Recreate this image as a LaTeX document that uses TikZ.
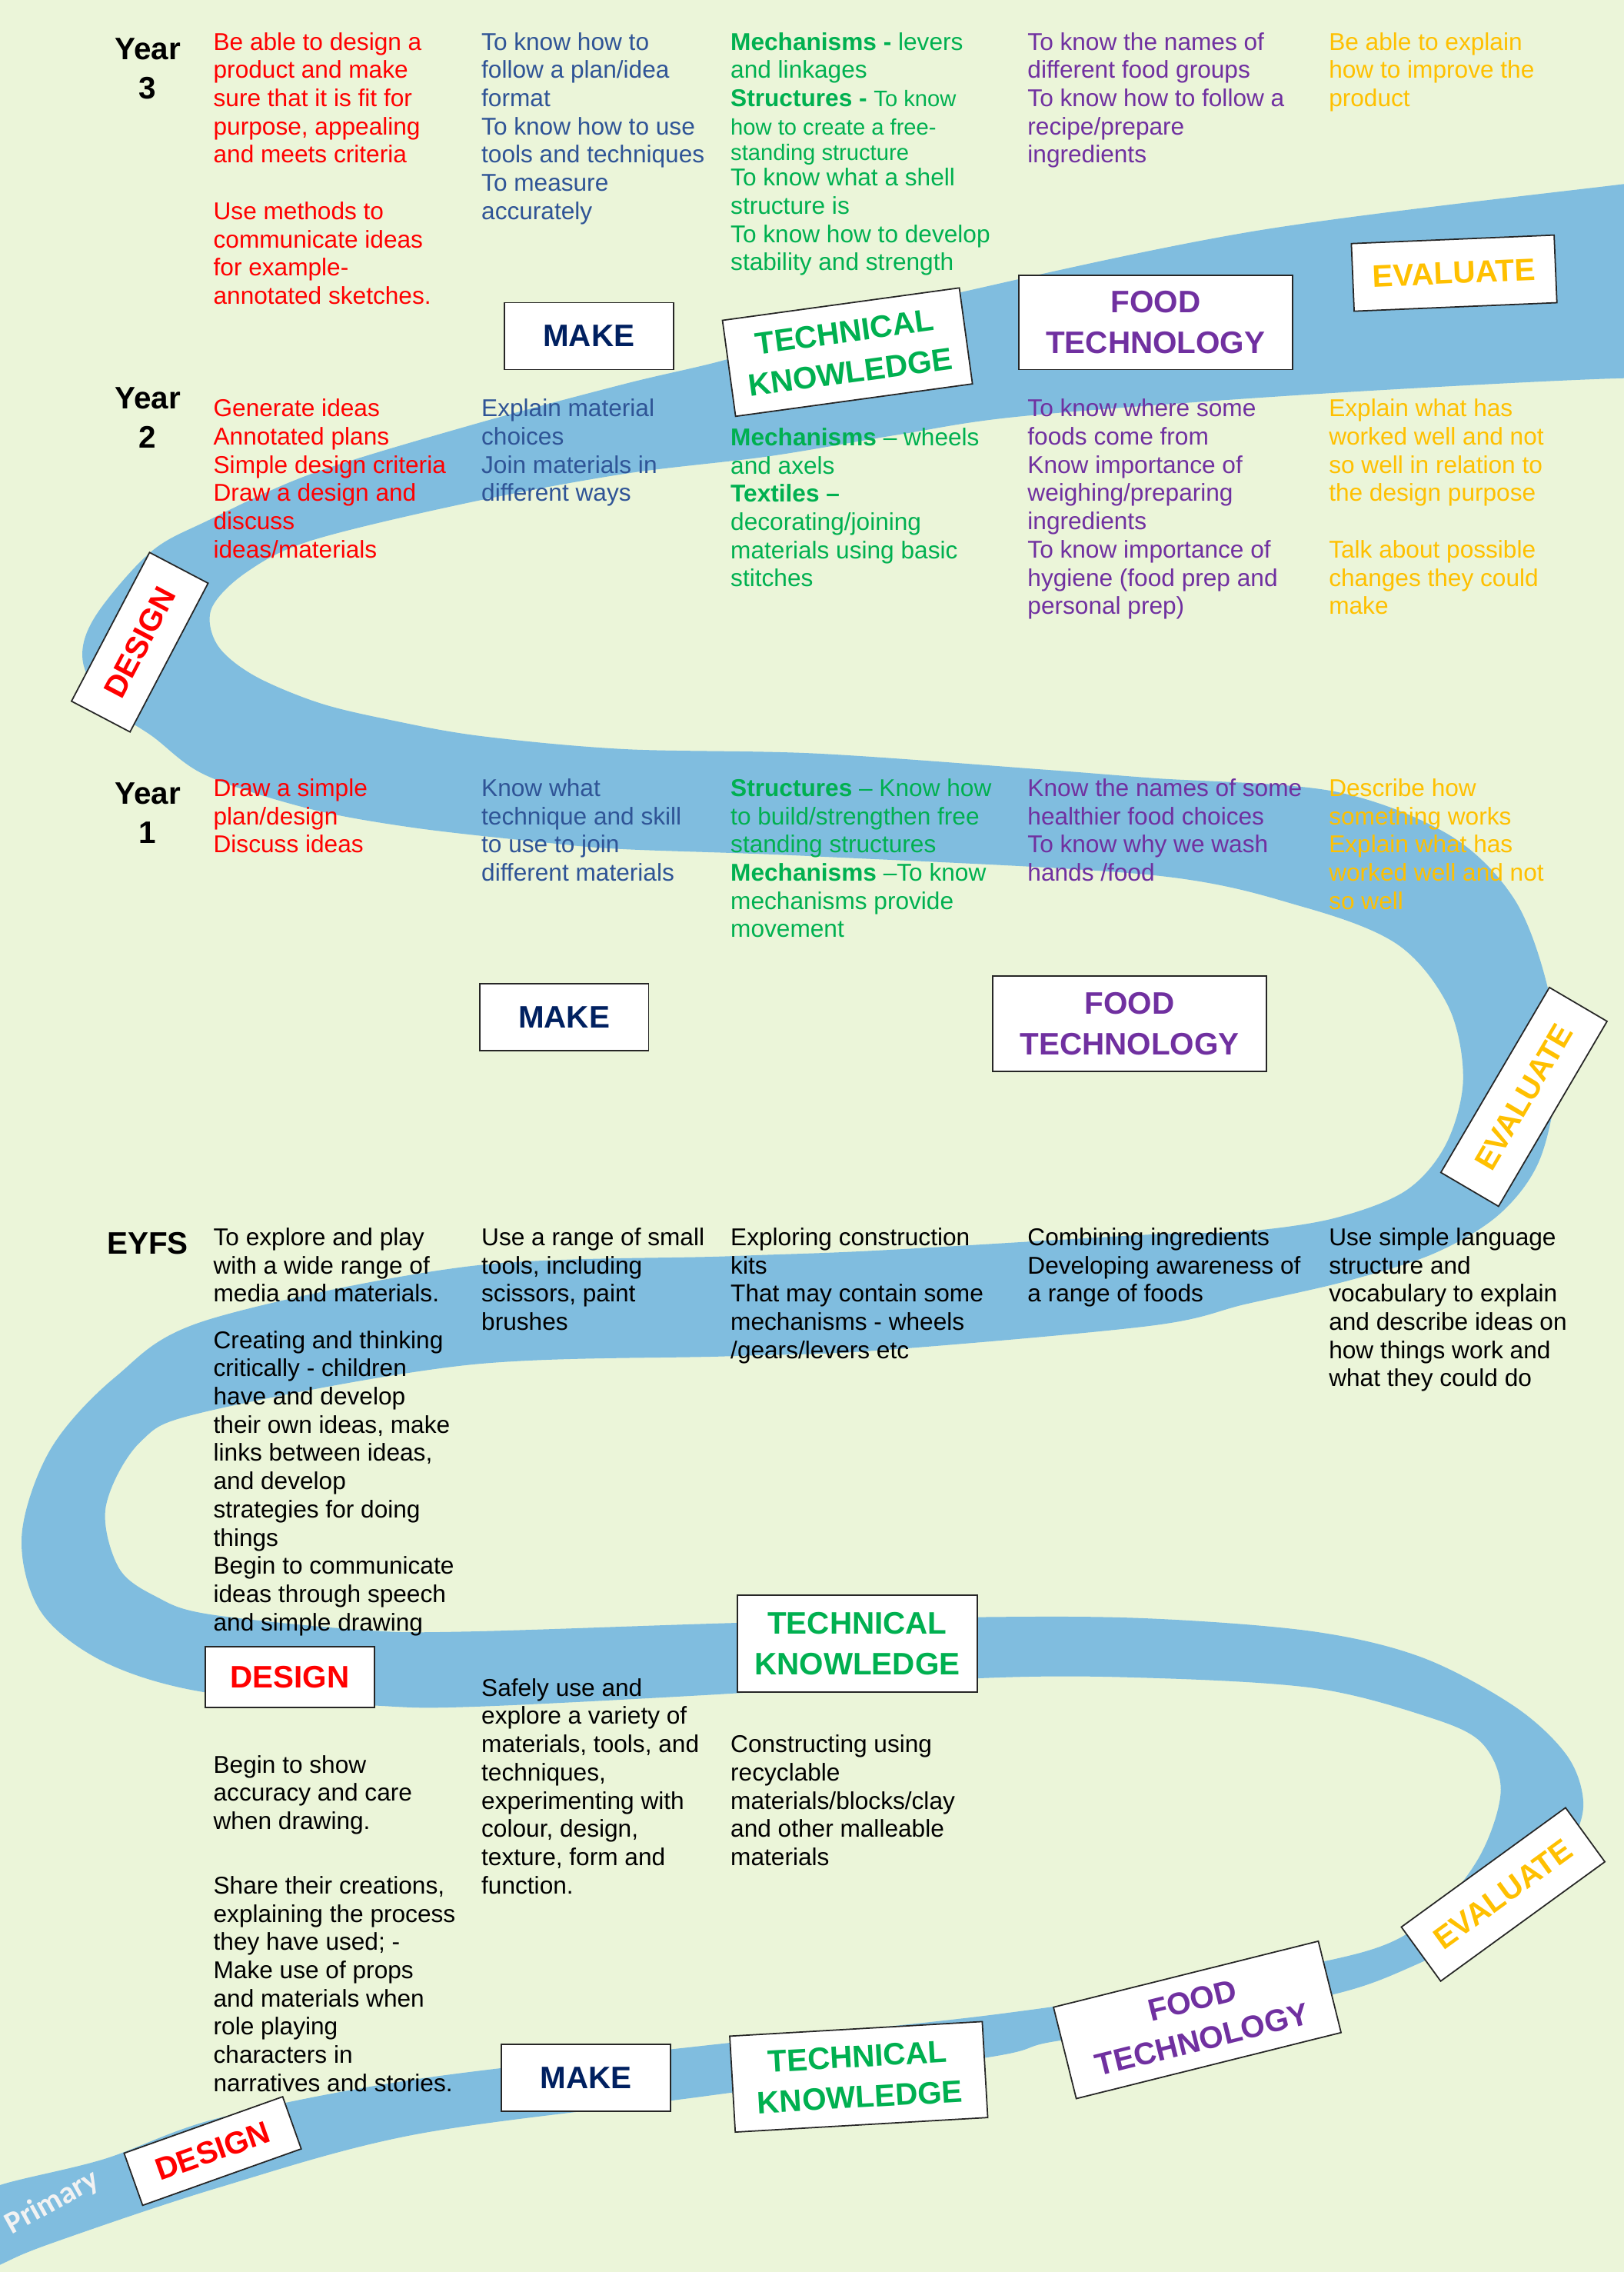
\documentclass[tikz,border=0pt]{standalone}
\usepackage{fontspec}
\setmainfont{Liberation Sans}
\newfontfamily\roadfont{Carlito}

\definecolor{meadow}{RGB}{235,245,217}
\definecolor{river}{RGB}{128,189,223}
\definecolor{dtred}{RGB}{255,0,0}
\definecolor{dtblue}{RGB}{47,84,150}
\definecolor{dtgreen}{RGB}{0,176,80}
\definecolor{dtpurple}{RGB}{112,48,160}
\definecolor{dtgold}{RGB}{255,192,0}
\definecolor{dtnavy}{RGB}{0,32,96}

\newcommand\sml{\fontsize{8.3}{9.5}\selectfont}

\tikzset{
  stage/.style={draw=black!85, line width=0.5pt, fill=white, inner sep=0pt,
    align=center, font=\fontsize{11.5}{15}\selectfont\bfseries},
  aim/.style={anchor=north west, inner sep=0pt, align=left,
    font=\fontsize{9}{10.45}\selectfont},
  year/.style={anchor=north, inner sep=0pt, align=center,
    font=\fontsize{11.5}{14.4}\selectfont\bfseries},
  road/.style={fill=river},
}

\begin{document}
\begin{tikzpicture}[x=0.01884cm, y=-0.01884cm]
  \useasboundingbox (0,0) rectangle (1121,1568);
  \fill[meadow] (0,0) rectangle (1121,1568);

  % the winding road
  \begin{scope}
    \clip (0,0) rectangle (1121,1568);
    \fill[road] plot[smooth, tension=0.55] coordinates {
      (-30,1523) (0,1508) (72,1490) (150,1462) (287,1435) (484,1412)
      (681,1391) (830,1369) (945,1346) (990,1320) (1022,1280) (1036,1235)
      (1022,1202) (983,1184) (907,1165) (794,1158) (681,1158)
      (484,1170) (323,1178) (258,1177) (142,1168) (72,1147) (28,1112)
      (15,1060) (35,1000) (80,950) (143,911) (323,874)
      (502,867) (606,863) (794,852) (858,850) (920,841) (970,822) (998,790)
      (1010,745) (1000,695) (965,652) (900,626) (796,604)
      (563,591) (430,586) (372,581) (284,571) (213,558) (142,535) (105,508)
      (72,485) (57,455) (66,425) (104,381) (144,359) (215,327)
      (323,294) (431,265) (502,248) (580,224) (662,202) (869,159)
      (1121,127) (1160,123)}
      -- plot[smooth, tension=0.55] coordinates {
      (1160,266) (1121,261) (907,272) (708,287) (620,300) (530,315)
      (431,327) (323,347) (215,373) (170,395) (146,420) (150,445)
      (175,466) (220,485) (270,497) (332,508) (431,517) (563,520) (719,531)
      (796,537) (920,546) (1000,576) (1045,620) (1068,680) (1075,740)
      (1063,800) (1035,838) (990,865) (930,884) (860,900)
      (794,915) (606,932) (502,936) (323,942) (143,974) (97,995)
      (73,1040) (82,1082) (108,1102) (144,1114) (251,1125) (323,1126)
      (509,1120) (681,1116) (794,1117) (907,1126) (982,1144) (1046,1178)
      (1082,1212) (1093,1245) (1083,1275) (1058,1305) (1020,1334)
      (975,1357) (926,1375) (830,1395) (727,1409) (681,1420) (484,1447)
      (287,1473) (150,1510) (36,1548) (0,1563) (-30,1578)}
      -- cycle;
  \end{scope}

  % Year 3
  \node[year] (y3) at (102,26) {Year\\3};
  \node[aim, text=dtred] (y3design) at (147,22) {Be able to design a\\product and make\\sure that it is fit for\\purpose, appealing\\and meets criteria\\[10.45pt]Use methods to\\communicate ideas\\for example-\\annotated sketches.};
  \node[aim, text=dtblue] (y3make) at (332,22) {To know how to\\follow a plan/idea\\format\\To know how to use\\tools and techniques\\To measure\\accurately};
  \node[aim, text=dtgreen] (y3tech) at (504,22) {\textbf{Mechanisms -} levers\\and linkages\\\textbf{Structures -} {\sml To know}\\{\sml how to create a free-}\\[-1pt]{\sml standing structure}\\[-1pt]To know what a shell\\structure is\\To know how to develop\\stability and strength};
  \node[aim, text=dtpurple] (y3food) at (709,22) {To know the names of\\different food groups\\To know how to follow a\\recipe/prepare\\ingredients};
  \node[aim, text=dtgold] (y3eval) at (917,22) {Be able to explain\\how to improve the\\product};

  % Year 2
  \node[year] (y2) at (102,267) {Year\\2};
  \node[aim, text=dtred] (y2design) at (147,275) {Generate ideas\\Annotated plans\\Simple design criteria\\Draw a design and\\discuss\\ideas/materials};
  \node[aim, text=dtblue] (y2make) at (332,275) {Explain material\\choices\\Join materials in\\different ways};
  \node[aim, text=dtgreen] (y2tech) at (504,295) {\textbf{Mechanisms} – wheels\\and axels\\\textbf{Textiles –}\\decorating/joining\\materials using basic\\stitches};
  \node[aim, text=dtpurple] (y2food) at (709,275) {To know where some\\foods come from\\Know importance of\\weighing/preparing\\ingredients\\To know importance of\\hygiene (food prep and\\personal prep)};
  \node[aim, text=dtgold] (y2eval) at (917,275) {Explain what has\\worked well and not\\so well in relation to\\the design purpose\\[10.45pt]Talk about possible\\changes they could\\make};

  % Year 1
  \node[year] (y1) at (102,540) {Year\\1};
  \node[aim, text=dtred] (y1design) at (147,537) {Draw a simple\\plan/design\\Discuss ideas};
  \node[aim, text=dtblue] (y1make) at (332,537) {Know what\\technique and skill\\to use to join\\different materials};
  \node[aim, text=dtgreen] (y1tech) at (504,537) {\textbf{Structures} – Know how\\to build/strengthen free\\standing structures\\\textbf{Mechanisms} –To know\\mechanisms provide\\movement};
  \node[aim, text=dtpurple] (y1food) at (709,537) {Know the names of some\\healthier food choices\\To know why we wash\\hands /food};
  \node[aim, text=dtgold] (y1eval) at (917,537) {Describe how\\something works\\Explain what has\\worked well and not\\so well};

  % EYFS
  \node[year] (eyfs) at (102,850) {EYFS};
  \node[aim] (edesign) at (147,847) {To explore and play\\with a wide range of\\media and materials.\\[6.7pt]Creating and thinking\\critically - children\\have and develop\\their own ideas, make\\links between ideas,\\and develop\\strategies for doing\\things\\Begin to communicate\\ideas through speech\\and simple drawing};
  \node[aim] (emake) at (332,847) {Use a range of small\\tools, including\\scissors, paint\\brushes};
  \node[aim] (etech) at (504,847) {Exploring construction\\kits\\That may contain some\\mechanisms - wheels\\/gears/levers etc};
  \node[aim] (efood) at (709,847) {Combining ingredients\\Developing awareness of\\a range of foods};
  \node[aim] (eeval) at (917,847) {Use simple language\\structure and\\vocabulary to explain\\and describe ideas on\\how things work and\\what they could do};
  \node[aim] (edesignb) at (147,1211) {Begin to show\\accuracy and care\\when drawing.\\[13.4pt]Share their creations,\\explaining the process\\they have used; -\\Make use of props\\and materials when\\role playing\\characters in\\narratives and stories.};
  \node[aim] (emakeb) at (332,1158) {Safely use and\\explore a variety of\\materials, tools, and\\techniques,\\experimenting with\\colour, design,\\texture, form and\\function.};
  \node[aim] (etechb) at (504,1197) {Constructing using\\recyclable\\materials/blocks/clay\\and other malleable\\materials};

  % stages along the road
  \node[stage, text=dtnavy, minimum width=2.20cm, minimum height=0.87cm] (make3) at (406.5,232) {MAKE};
  \node[stage, text=dtgreen, minimum width=3.11cm, minimum height=1.26cm, rotate=7.8] (tech3) at (585,243) {TECHNICAL\\KNOWLEDGE};
  \node[stage, text=dtpurple, minimum width=3.56cm, minimum height=1.225cm] (food3) at (797.7,222.6) {FOOD\\TECHNOLOGY};
  \node[stage, text=dtgold, minimum width=2.64cm, minimum height=0.88cm, rotate=2.4] (eval3) at (1003.8,188.5) {EVALUATE};
  \node[stage, text=dtred, minimum width=2.185cm, minimum height=0.86cm, rotate=62.3] (design2) at (96.5,443.2) {DESIGN};
  \node[stage, text=dtnavy, minimum width=2.20cm, minimum height=0.87cm] (make1) at (389.4,702) {MAKE};
  \node[stage, text=dtpurple, minimum width=3.56cm, minimum height=1.235cm] (food1) at (779.8,706.5) {FOOD\\TECHNOLOGY};
  \node[stage, text=dtgold, minimum width=2.79cm, minimum height=0.87cm, rotate=59.6] (eval1) at (1052,757) {EVALUATE};
  \node[stage, text=dtred, minimum width=2.20cm, minimum height=0.79cm] (design0) at (200.1,1157.3) {DESIGN};
  \node[stage, text=dtgreen, minimum width=3.12cm, minimum height=1.26cm] (tech0) at (591.8,1134.2) {TECHNICAL\\KNOWLEDGE};
  \node[stage, text=dtred, minimum width=2.19cm, minimum height=0.72cm, rotate=19.6] (designp) at (146.8,1484.5) {DESIGN};
  \node[stage, text=dtnavy, minimum width=2.20cm, minimum height=0.87cm] (makep) at (404.5,1434) {MAKE};
  \node[stage, text=dtgreen, minimum width=3.29cm, minimum height=1.25cm, rotate=3.3] (techp) at (592.8,1433.3) {TECHNICAL\\KNOWLEDGE};
  \node[stage, text=dtpurple, minimum width=3.55cm, minimum height=1.225cm, rotate=14] (foodp) at (826.5,1394) {FOOD\\TECHNOLOGY};
  \node[stage, text=dtgold, minimum width=2.64cm, minimum height=0.87cm, rotate=36] (evalp) at (1037.6,1307.4) {EVALUATE};

  \node[text=white!95!black, font=\roadfont\fontsize{11.5}{13}\selectfont\bfseries, rotate=29] (primary) at (36,1520) {Primary};
\end{tikzpicture}
\end{document}
